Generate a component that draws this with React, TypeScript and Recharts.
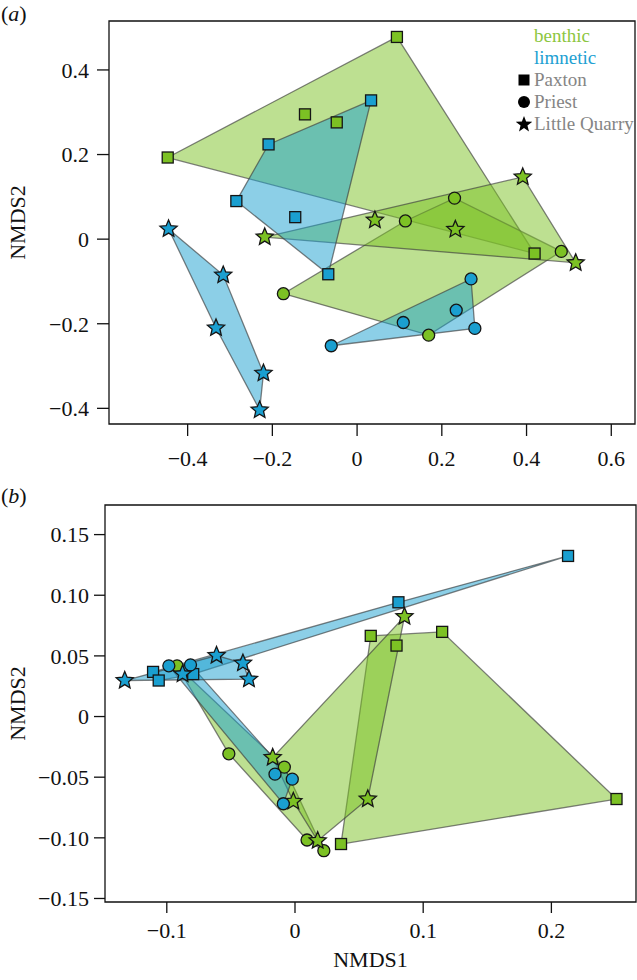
import { ScatterChart, Scatter, XAxis, YAxis, ReferenceArea, Legend } from 'recharts';

const GREEN = '#7cc124';
const BLUE = '#1a9fd0';
const FONT = '"Liberation Serif", "Times New Roman", serif';

type Pt = { x: number; y: number };
type Kind = 'square' | 'circle' | 'star';

// panel (a)
const aPaxtonBenthic: Pt[] = [
  { x: 0.094, y: 0.478 }, { x: -0.123, y: 0.295 }, { x: -0.048, y: 0.276 },
  { x: -0.447, y: 0.193 }, { x: 0.419, y: -0.034 },
];
const aPaxtonLimnetic: Pt[] = [
  { x: 0.033, y: 0.328 }, { x: -0.209, y: 0.224 }, { x: -0.285, y: 0.09 },
  { x: -0.146, y: 0.052 }, { x: -0.068, y: -0.083 },
];
const aPriestBenthic: Pt[] = [
  { x: 0.23, y: 0.097 }, { x: 0.114, y: 0.043 }, { x: 0.482, y: -0.029 },
  { x: -0.174, y: -0.129 }, { x: 0.169, y: -0.227 },
];
const aPriestLimnetic: Pt[] = [
  { x: 0.269, y: -0.094 }, { x: 0.234, y: -0.168 }, { x: 0.109, y: -0.197 },
  { x: 0.278, y: -0.211 }, { x: -0.061, y: -0.252 },
];
const aQuarryBenthic: Pt[] = [
  { x: 0.391, y: 0.147 }, { x: 0.042, y: 0.045 }, { x: 0.232, y: 0.023 },
  { x: -0.218, y: 0.005 }, { x: 0.516, y: -0.056 },
];
const aQuarryLimnetic: Pt[] = [
  { x: -0.445, y: 0.024 }, { x: -0.316, y: -0.085 }, { x: -0.333, y: -0.21 },
  { x: -0.221, y: -0.317 }, { x: -0.23, y: -0.404 },
];
const aXTicks = [-0.4, -0.2, 0, 0.2, 0.4, 0.6];
const aYTicks = [-0.4, -0.2, 0, 0.2, 0.4];

// panel (b)
const bPaxtonBenthic: Pt[] = [
  { x: 0.0591, y: 0.0665 }, { x: 0.0792, y: 0.0585 }, { x: 0.1148, y: 0.0698 },
  { x: 0.0359, y: -0.1051 }, { x: 0.2508, y: -0.068 },
];
const bPaxtonLimnetic: Pt[] = [
  { x: -0.1107, y: 0.0368 }, { x: -0.1063, y: 0.0297 }, { x: -0.0794, y: 0.035 },
  { x: 0.0807, y: 0.0942 }, { x: 0.213, y: 0.1324 },
];
const bPriestBenthic: Pt[] = [
  { x: -0.092, y: 0.0418 }, { x: -0.0516, y: -0.0307 }, { x: -0.0083, y: -0.0417 },
  { x: 0.0094, y: -0.1018 }, { x: 0.0225, y: -0.1106 },
];
const bPriestLimnetic: Pt[] = [
  { x: -0.0984, y: 0.0418 }, { x: -0.0815, y: 0.0426 }, { x: -0.0156, y: -0.0475 },
  { x: -0.0021, y: -0.0516 }, { x: -0.0091, y: -0.0719 },
];
const bQuarryBenthic: Pt[] = [
  { x: -0.0174, y: -0.0338 }, { x: -0.0013, y: -0.07 }, { x: 0.0177, y: -0.1024 },
  { x: 0.0568, y: -0.068 }, { x: 0.0854, y: 0.0824 },
];
const bQuarryLimnetic: Pt[] = [
  { x: -0.1328, y: 0.0297 }, { x: -0.0877, y: 0.035 }, { x: -0.0612, y: 0.0503 },
  { x: -0.0406, y: 0.044 }, { x: -0.0359, y: 0.0308 },
];
const bXTicks = [-0.1, 0, 0.1, 0.2];
const bYTicks = [-0.15, -0.1, -0.05, 0, 0.05, 0.1, 0.15];

type Group = { data: Pt[]; color: string; kind: Kind };

// benthic first, limnetic drawn on top
const aGroups: Group[] = [
  { data: aPaxtonBenthic, color: GREEN, kind: 'square' },
  { data: aPriestBenthic, color: GREEN, kind: 'circle' },
  { data: aQuarryBenthic, color: GREEN, kind: 'star' },
  { data: aPaxtonLimnetic, color: BLUE, kind: 'square' },
  { data: aPriestLimnetic, color: BLUE, kind: 'circle' },
  { data: aQuarryLimnetic, color: BLUE, kind: 'star' },
];
const bGroups: Group[] = [
  { data: bPaxtonBenthic, color: GREEN, kind: 'square' },
  { data: bPriestBenthic, color: GREEN, kind: 'circle' },
  { data: bQuarryBenthic, color: GREEN, kind: 'star' },
  { data: bPaxtonLimnetic, color: BLUE, kind: 'square' },
  { data: bPriestLimnetic, color: BLUE, kind: 'circle' },
  { data: bQuarryLimnetic, color: BLUE, kind: 'star' },
];

// convex hull (monotone chain)
function hull(pts: Pt[]): Pt[] {
  const s = [...pts].sort((a, b) => a.x - b.x || a.y - b.y);
  const cross = (o: Pt, a: Pt, b: Pt) => (a.x - o.x) * (b.y - o.y) - (a.y - o.y) * (b.x - o.x);
  const lower: Pt[] = [];
  for (const p of s) {
    while (lower.length >= 2 && cross(lower[lower.length - 2], lower[lower.length - 1], p) <= 0) lower.pop();
    lower.push(p);
  }
  const upper: Pt[] = [];
  for (const p of [...s].reverse()) {
    while (upper.length >= 2 && cross(upper[upper.length - 2], upper[upper.length - 1], p) <= 0) upper.pop();
    upper.push(p);
  }
  return lower.slice(0, -1).concat(upper.slice(0, -1));
}

const hullShape = (color: string) => (props: any) => {
  const pts = props.points || [];
  if (!pts.length) return <g />;
  return (
    <polygon
      points={pts.map((p: any) => `${p.x},${p.y}`).join(' ')}
      fill={color}
      fillOpacity={0.5}
      stroke="#3d3d3d"
      strokeOpacity={0.65}
      strokeWidth={1.3}
    />
  );
};

function starPoints(cx: number, cy: number, R: number, r: number) {
  const out: string[] = [];
  for (let i = 0; i < 10; i++) {
    const a = -Math.PI / 2 + (i * Math.PI) / 5;
    const rad = i % 2 === 0 ? R : r;
    out.push(`${cx + rad * Math.cos(a)},${cy + rad * Math.sin(a)}`);
  }
  return out.join(' ');
}

const marker = (kind: Kind, color: string) => (p: any) => {
  const { cx, cy } = p;
  if (kind === 'square') {
    return <rect x={cx - 5.5} y={cy - 5.5} width={11} height={11} fill={color} stroke="#151515" strokeWidth={1.3} />;
  }
  if (kind === 'circle') {
    return <circle cx={cx} cy={cy} r={6} fill={color} stroke="#151515" strokeWidth={1.3} />;
  }
  return <polygon points={starPoints(cx, cy, 9, 4.1)} fill={color} stroke="#151515" strokeWidth={1.3} />;
};

const fmt = (digits: number) => (v: number) => {
  if (v === 0) return '0';
  const s = Math.abs(v).toFixed(digits);
  return v < 0 ? `\u2212${s}` : s;
};

const tickStyle = { fontFamily: FONT, fontSize: 22, fill: '#111' };

function LegendBox() {
  const row = { display: 'flex', alignItems: 'center', height: 22, whiteSpace: 'nowrap' as const };
  const icon = (kind: Kind) => (
    <svg width={16} height={16} style={{ marginRight: 2 }}>
      {kind === 'square' && <rect x={2.5} y={2.5} width={11} height={11} fill="#000" />}
      {kind === 'circle' && <circle cx={8} cy={8} r={6} fill="#000" />}
      {kind === 'star' && <polygon points={starPoints(8, 8.5, 8.5, 3.6)} fill="#000" />}
    </svg>
  );
  return (
    <div style={{ fontFamily: FONT, fontSize: 19, lineHeight: '22px' }}>
      <div style={{ ...row, color: '#8cc63f', paddingLeft: 18 }}>benthic</div>
      <div style={{ ...row, color: '#21a0d2', paddingLeft: 18 }}>limnetic</div>
      <div style={{ ...row, color: '#858585' }}>{icon('square')}Paxton</div>
      <div style={{ ...row, color: '#858585' }}>{icon('circle')}Priest</div>
      <div style={{ ...row, color: '#858585' }}>{icon('star')}Little Quarry</div>
    </div>
  );
}

function renderSeries(groups: Group[]) {
  const polys = groups.map((g, i) => (
    <Scatter
      key={`h${i}`}
      data={hull(g.data)}
      line={hullShape(g.color)}
      lineType="joint"
      shape={() => <g />}
      isAnimationActive={false}
    />
  ));
  const pts = groups.map((g, i) => (
    <Scatter key={`p${i}`} data={g.data} shape={marker(g.kind, g.color)} isAnimationActive={false} />
  ));
  return [...polys, ...pts];
}

const aX: [number, number] = [-0.5856, 0.656];
const aY: [number, number] = [-0.437, 0.5157];
const bX: [number, number] = [-0.1482, 0.266];
const bY: [number, number] = [-0.1529, 0.1744];

export default function App() {
  return (
    <div style={{ position: 'absolute', left: 0, top: 0, width: 637, height: 980, background: '#fff', fontFamily: FONT }}>
      <div style={{ position: 'absolute', left: 1, top: 1, fontSize: 22, color: '#111' }}>
        (<i>a</i>)
      </div>
      <div style={{ position: 'absolute', left: 1, top: 483, fontSize: 22, color: '#111' }}>
        (<i>b</i>)
      </div>

      <div style={{ position: 'absolute', left: 0, top: 0 }}>
        <ScatterChart width={637} height={480} margin={{ top: 21, right: 2, bottom: 0, left: 0 }}>
          <XAxis
            type="number"
            dataKey="x"
            domain={aX}
            allowDataOverflow
            ticks={aXTicks}
            interval={0}
            tickFormatter={fmt(1)}
            height={56}
            tickSize={12}
            tickMargin={14}
            axisLine={false}
            fontSize={22}
            fontFamily={FONT}
            tickLine={{ stroke: '#111', strokeWidth: 1.3 }}
            tick={tickStyle}
          />
          <YAxis
            type="number"
            dataKey="y"
            domain={aY}
            allowDataOverflow
            ticks={aYTicks}
            interval={0}
            tickFormatter={fmt(1)}
            width={109}
            tickSize={12}
            tickMargin={8}
            axisLine={false}
            fontSize={22}
            fontFamily={FONT}
            tickLine={{ stroke: '#111', strokeWidth: 1.3 }}
            tick={tickStyle}
            label={{ value: 'NMDS2', angle: -90, position: 'insideLeft', offset: 17, style: { textAnchor: 'middle', fontFamily: FONT, fontSize: 22, fill: '#111' } }}
          />
          <ReferenceArea x1={aX[0]} x2={aX[1]} y1={aY[0]} y2={aY[1]} fill="none" stroke="#111" strokeWidth={1.3} />
          {renderSeries(aGroups)}
          <Legend
            layout="horizontal"
            verticalAlign="middle"
            align="center"
            wrapperStyle={{ top: 25, left: 516, width: 125 }}
            content={() => <LegendBox />}
          />
        </ScatterChart>
      </div>

      <div style={{ position: 'absolute', left: 0, top: 480 }}>
        <ScatterChart width={637} height={500} margin={{ top: 25, right: 1, bottom: 0, left: 0 }}>
          <XAxis
            type="number"
            dataKey="x"
            domain={bX}
            allowDataOverflow
            ticks={bXTicks}
            interval={0}
            tickFormatter={fmt(1)}
            height={78}
            tickSize={11}
            tickMargin={9}
            axisLine={false}
            fontSize={22}
            fontFamily={FONT}
            tickLine={{ stroke: '#111', strokeWidth: 1.3 }}
            tick={tickStyle}
            label={{ value: 'NMDS1', position: 'insideBottom', offset: 13, style: { fontFamily: FONT, fontSize: 22, fill: '#111' } }}
          />
          <YAxis
            type="number"
            dataKey="y"
            domain={bY}
            allowDataOverflow
            ticks={bYTicks}
            interval={0}
            tickFormatter={fmt(2)}
            width={105}
            tickSize={11}
            tickMargin={5}
            axisLine={false}
            fontSize={22}
            fontFamily={FONT}
            tickLine={{ stroke: '#111', strokeWidth: 1.3 }}
            tick={tickStyle}
            label={{ value: 'NMDS2', angle: -90, position: 'insideLeft', offset: 17, style: { textAnchor: 'middle', fontFamily: FONT, fontSize: 22, fill: '#111' } }}
          />
          <ReferenceArea x1={bX[0]} x2={bX[1]} y1={bY[0]} y2={bY[1]} fill="none" stroke="#111" strokeWidth={1.3} />
          {renderSeries(bGroups)}
        </ScatterChart>
      </div>
    </div>
  );
}
